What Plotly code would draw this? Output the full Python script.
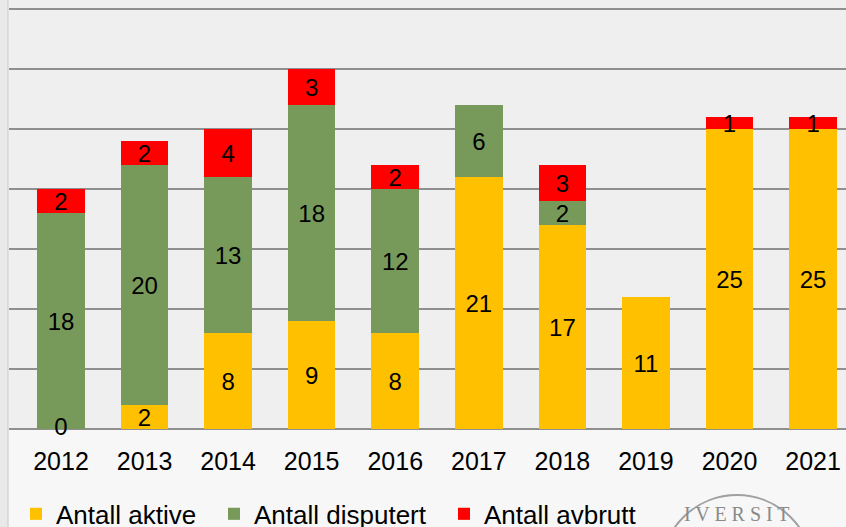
import plotly.graph_objects as go

years = ["2012", "2013", "2014", "2015", "2016", "2017", "2018", "2019", "2020", "2021"]
aktive = [0, 2, 8, 9, 8, 21, 17, 11, 25, 25]
disputert = [18, 20, 13, 18, 12, 6, 2, 0, 0, 0]
avbrutt = [2, 2, 4, 3, 2, 0, 3, 0, 1, 1]

series = [
    ("Antall aktive", aktive, "#FFC000", 153),
    ("Antall disputert", disputert, "#779A5B", 185),
    ("Antall avbrutt", avbrutt, "#FF0000", 170),
]

fig = go.Figure()
for name, vals, color, lw in series:
    fig.add_trace(go.Bar(
        x=years, y=vals, name=name, legendwidth=lw,
        marker=dict(color=color, line=dict(width=0)),
        text=[str(v) if v else "" for v in vals],
        textposition="inside", insidetextanchor="middle", textangle=0,
        constraintext="none", cliponaxis=False,
        textfont=dict(family="Liberation Sans, Arial", size=24, color="black"),
    ))

# zero label for bars of height 0 in the bottom series where shown (2012)
zero_x = [y for y, a, d in zip(years, aktive, disputert) if a == 0 and d > 0]
fig.add_trace(go.Scatter(
    x=zero_x, y=[0] * len(zero_x), mode="text", text=["0"] * len(zero_x),
    textposition="middle center", showlegend=False, cliponaxis=False,
    textfont=dict(family="Liberation Sans, Arial", size=24, color="black"),
    hoverinfo="skip",
))

fig.update_layout(
    barmode="stack",
    bargap=0.43,
    width=846, height=527,
    margin=dict(l=9, r=0, t=0, b=98, autoexpand=False),
    paper_bgcolor="#f7f7f7",
    plot_bgcolor="#efefef",
    font=dict(family="Liberation Sans, Arial", size=25, color="black"),
    legend=dict(
        orientation="h", x=7/837, xanchor="left", y=-0.198, yanchor="middle",
        font=dict(size=26), itemwidth=30, traceorder="normal",
        bgcolor="rgba(0,0,0,0)",
    ),
    xaxis=dict(
        range=[-0.622, 9.394], showgrid=False, ticks="outside", ticklen=10,
        tickcolor="rgba(0,0,0,0)", tickfont=dict(size=25), showline=False,
        fixedrange=True, automargin=False,
    ),
    yaxis=dict(
        range=[0, 35.75], dtick=5, showticklabels=False, gridcolor="#8f8f8f",
        gridwidth=2, zeroline=True, zerolinecolor="#8f8f8f", zerolinewidth=2,
        fixedrange=True, automargin=False,
    ),
    shapes=[
        dict(type="rect", xref="paper", yref="paper", x0=-9/837, x1=-1/837,
             y0=-98/429, y1=1, fillcolor="#e9e9e9", line=dict(width=0), layer="below"),
        dict(type="line", xref="paper", yref="paper", x0=-1/837, x1=-1/837,
             y0=-98/429, y1=1, line=dict(color="#c8c8c8", width=1)),
        dict(type="circle", xref="paper", yref="paper",
             x0=(661-9)/837, x1=(813-9)/837, y0=-(647-429)/429, y1=-(495-429)/429,
             line=dict(color="#a0a0a0", width=2)),
    ],
    annotations=[
        dict(text="I V E R S I T", xref="paper", yref="paper", x=(737-9)/837,
             y=-(514-429)/429, xanchor="center", yanchor="middle",
             showarrow=False, font=dict(family="Liberation Serif", size=20, color="#8a8a8a")),
    ],
)

fig.write_html("out.html", config={"displayModeBar": False},
               post_script="document.body.style.margin='0';document.body.style.overflow='hidden';")
